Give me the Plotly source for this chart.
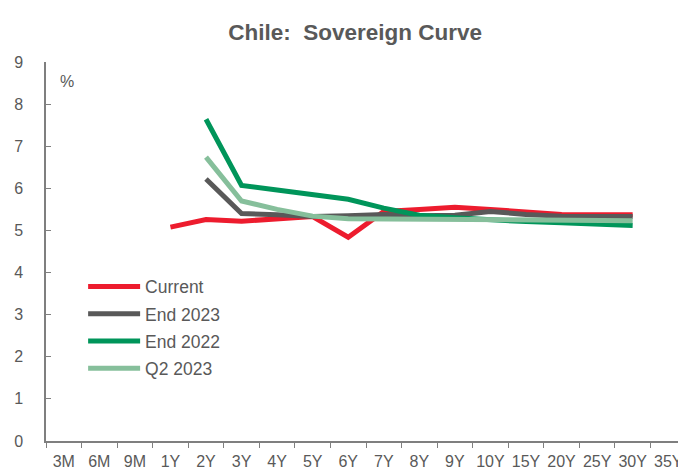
import plotly.graph_objects as go

tenors = ["3M", "6M", "9M", "1Y", "2Y", "3Y", "4Y", "5Y", "6Y", "7Y", "8Y", "9Y",
          "10Y", "15Y", "20Y", "25Y", "30Y", "35Y"]

current = [None, None, None, 5.08, 5.26, 5.22, 5.27, 5.33, 4.84, 5.45, 5.50, 5.55,
           5.50, 5.43, 5.38, 5.37, 5.37, None]
end_2023 = [None, None, None, None, 6.22, 5.40, 5.37, 5.33, 5.35, 5.38, 5.35, 5.36,
            5.45, 5.38, 5.34, 5.33, 5.33, None]
end_2022 = [None, None, None, None, 7.64, 6.07, 5.96, 5.85, 5.74, 5.53, 5.36, 5.30,
            5.25, 5.21, 5.18, 5.15, 5.12, None]
q2_2023 = [None, None, None, None, 6.74, 5.70, 5.50, 5.34, 5.28, 5.27, 5.27, 5.27,
           5.26, 5.25, 5.23, 5.23, 5.23, None]

series = [
    ("Current", current, "#ED1C2E"),
    ("End 2023", end_2023, "#595959"),
    ("End 2022", end_2022, "#00955A"),
    ("Q2 2023", q2_2023, "#86BF9B"),
]

FONT = "Liberation Sans, Arial, sans-serif"
NARROW = "Liberation Sans Narrow, Arial Narrow, Liberation Sans, sans-serif"
GREY = "#595959"

fig = go.Figure()
for i, (name, vals, col) in enumerate(series):
    fig.add_trace(go.Scatter(
        x=tenors, y=vals, name=name, mode="lines",
        line=dict(color=col, width=5), legendgroup=str(i),
        connectgaps=False,
    ))

fig.update_layout(
    width=678, height=464,
    margin=dict(l=38, r=0, t=54, b=31),
    paper_bgcolor="white", plot_bgcolor="white",
    font=dict(family=FONT, size=15, color=GREY),
    title=dict(text="<b>Chile:&nbsp; Sovereign Curve</b>", x=0.512, xanchor="center",
               y=0.948, yanchor="middle",
               font=dict(family=FONT, size=22.5, color=GREY)),
    showlegend=True,
    legend=dict(x=0.058, y=0.455, xanchor="left", yanchor="top",
                bgcolor="rgba(0,0,0,0)", font=dict(size=17.5, color=GREY),
                traceorder="grouped", tracegroupgap=1.5, itemwidth=52),
    xaxis=dict(type="category", categoryorder="array", categoryarray=tenors,
               range=[-0.5, 17.5], showgrid=False, zeroline=False,
               showline=True, linecolor="#7F7F7F", linewidth=1.5,
               ticks="outside", ticklen=5, tickcolor="#7F7F7F", tickwidth=1,
               tickson="boundaries", tickangle=0, automargin=False,
               ticklabelstandoff=5,
               tickfont=dict(family=NARROW, size=16, color=GREY)),
    yaxis=dict(range=[0, 9], dtick=1, showgrid=False, zeroline=False,
               showline=True, linecolor="#7F7F7F", linewidth=1.5,
               ticks="inside", ticklen=5, tickcolor="#7F7F7F", tickwidth=1,
               ticklabelstandoff=18, automargin=False,
               tickfont=dict(size=16, color=GREY)),
    annotations=[dict(text="%", xref="paper", yref="paper", x=0.018, y=0.948,
                      xanchor="left", yanchor="middle", showarrow=False,
                      font=dict(size=16, color=GREY))],
)

fig.write_html("out.html")
